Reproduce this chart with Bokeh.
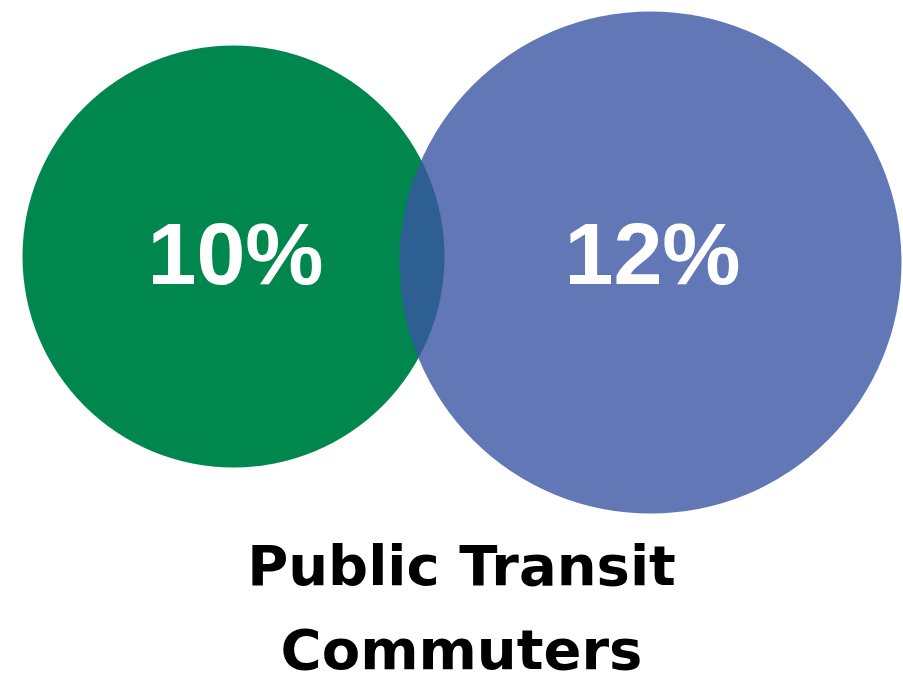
from bokeh.plotting import figure
from bokeh.models import Range1d, ColumnDataSource
from bokeh.core.properties import value
from bokeh.embed import file_html
from bokeh.resources import INLINE

# Data
groups = ["Group A", "Group B"]
shares = [10, 12]
labels = [f"{v}%" for v in shares]
title_lines = ["Public Transit", "Commuters"]

# Layout (pixel-like data units)
W, H = 903, 681
cx = [233, 650]
cy = [256, 262]
rad = [211, 251]
fills = ["#00874e", "#3955a4"]
alphas = [1.0, 0.8]
label_x = [235, 652]
label_y = 253
title_x = 461
title_y = [565, 649]

p = figure(width=W, height=H, output_backend="svg", toolbar_location=None,
           x_range=Range1d(0, W), y_range=Range1d(H, 0), min_border=0)
p.axis.visible = False
p.grid.visible = False
p.outline_line_color = None
p.background_fill_color = "white"
p.border_fill_color = "white"

for i in range(len(groups)):
    p.ellipse(x=cx[i], y=cy[i], width=2 * rad[i], height=2 * rad[i],
              fill_color=fills[i], fill_alpha=alphas[i], line_color=None)

src = ColumnDataSource(dict(x=label_x, y=[label_y] * 2, t=labels))
p.text(x="x", y="y", text="t", source=src, text_color="white",
       text_font=value("Liberation Sans"), text_font_style="bold",
       text_font_size="88px", text_align="center", text_baseline="alphabetic")

tsrc = ColumnDataSource(dict(x=[title_x] * 2, y=title_y, t=title_lines))
p.text(x="x", y="y", text="t", source=tsrc, text_color="black",
       text_font=value("DejaVu Sans"), text_font_style="bold",
       text_font_size="56px", text_align="center", text_baseline="alphabetic")

open("out.html", "w").write(file_html(p, INLINE))
